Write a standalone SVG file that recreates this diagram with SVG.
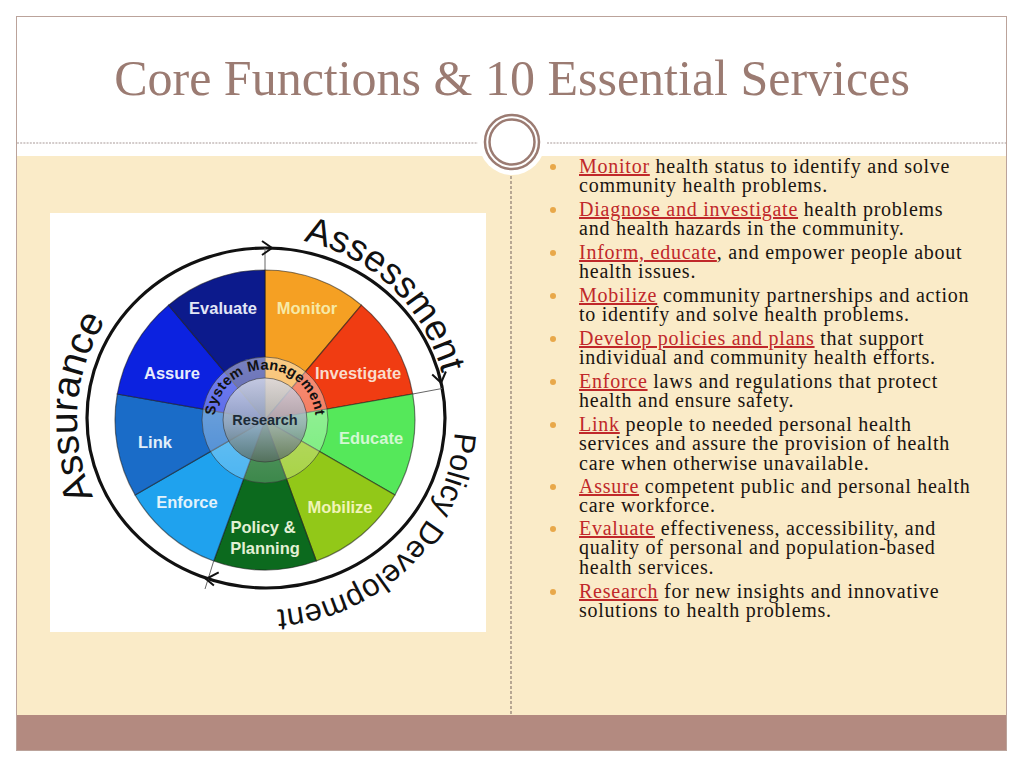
<svg xmlns="http://www.w3.org/2000/svg" width="1024" height="768" viewBox="0 0 1024 768">
<defs>
<style>
.title{font-family:"Liberation Serif","Times New Roman",serif;font-size:50px;fill:#9b7b72}
.body{font-family:"Liberation Serif","Times New Roman",serif;font-size:20px;fill:#1a1410;letter-spacing:0.75px}
.lead{fill:#c0282a;text-decoration:underline}
.lbl{font-family:"Liberation Sans",Arial,sans-serif;font-size:16.5px;font-weight:bold;text-anchor:middle}
.arc{font-family:"Liberation Sans",Arial,sans-serif;fill:#111;text-anchor:middle}
.sec{stroke:#1a1a1a;stroke-opacity:0.55;stroke-width:1.2}
.bul{fill:#e8a84a}
.thin{stroke:#666;stroke-width:1;fill:none}
.chev{stroke:#111;stroke-width:2;fill:none;stroke-linejoin:miter}
</style>
<linearGradient id="resG" x1="0" y1="0" x2="0" y2="1">
<stop offset="0" stop-color="#d8dcec"/>
<stop offset="0.55" stop-color="#9aa8b8"/>
<stop offset="1" stop-color="#566a5e"/>
</linearGradient>
<linearGradient id="ringG" x1="0" y1="0" x2="0" y2="1">
<stop offset="0" stop-color="#ffffff" stop-opacity="0.45"/>
<stop offset="0.6" stop-color="#ffffff" stop-opacity="0.3"/>
<stop offset="1" stop-color="#ffffff" stop-opacity="0.2"/>
</linearGradient>
<clipPath id="imgClip"><rect x="50" y="213" width="436" height="419"/></clipPath>
<path id="pAssess" d="M265,237 A183,183 0 0 1 448,420"/>
<path id="pPolicy" d="M452.1,387 A190,190 0 0 1 232,607.1"/>
<path id="pAssur" d="M121,540.8 A188,188 0 0 1 171,257.2"/>
<path id="pSys" d="M217.2,436.4 A50.5,50.5 0 1 1 312.8,436.4"/>
</defs>

<g id="slide">
<rect x="0" y="0" width="1024" height="768" fill="#ffffff"/>
<rect x="16" y="156" width="991" height="559" fill="#faebc8"/>
<rect x="16" y="715" width="991" height="35" fill="#b38a80"/>
<rect x="16.5" y="16.5" width="990" height="734" fill="none" stroke="#bba39b" stroke-width="1"/>
<line x1="17" y1="143" x2="478" y2="143" stroke="#a89a98" stroke-width="1.2" stroke-dasharray="2 1.2"/>
<line x1="547" y1="143" x2="1006" y2="143" stroke="#a89a98" stroke-width="1.2" stroke-dasharray="2 1.2"/>
<line x1="511" y1="176" x2="511" y2="715" stroke="#8a7a70" stroke-width="1.2" stroke-dasharray="3 2"/>
</g>

<g id="ornament">
<circle cx="512" cy="142" r="33" fill="#ffffff"/>
<circle cx="512" cy="142" r="27" fill="none" stroke="#9b7b72" stroke-width="2.5"/>
<circle cx="512" cy="142" r="22.5" fill="none" stroke="#9b7b72" stroke-width="2.5"/>
</g>

<g id="title">
<text class="title" x="512" y="95" text-anchor="middle">Core Functions &amp; 10 Essential Services</text>
</g>

<g id="wheel-image">
<rect x="50" y="213" width="436" height="419" fill="#ffffff"/>
<g clip-path="url(#imgClip)">
<g id="sector-monitor"><path class="sec" d="M265,420 L265,270 A150,150 0 0 1 361.4,305.1 Z" fill="#f5a023"/></g>
<g id="sector-investigate"><path class="sec" d="M265,420 L361.4,305.1 A150,150 0 0 1 412.7,394 Z" fill="#f03c12"/></g>
<g id="sector-educate"><path class="sec" d="M265,420 L412.7,394 A150,150 0 0 1 394.9,495 Z" fill="#55e85a"/></g>
<g id="sector-mobilize"><path class="sec" d="M265,420 L394.9,495 A150,150 0 0 1 316.3,561 Z" fill="#92c818"/></g>
<g id="sector-policy"><path class="sec" d="M265,420 L316.3,561 A150,150 0 0 1 213.7,561 Z" fill="#0c6a1e"/></g>
<g id="sector-enforce"><path class="sec" d="M265,420 L213.7,561 A150,150 0 0 1 135.1,495 Z" fill="#1fa2ee"/></g>
<g id="sector-link"><path class="sec" d="M265,420 L135.1,495 A150,150 0 0 1 117.3,394 Z" fill="#1a6cc8"/></g>
<g id="sector-assure"><path class="sec" d="M265,420 L117.3,394 A150,150 0 0 1 168.6,305.1 Z" fill="#0c22e0"/></g>
<g id="sector-evaluate"><path class="sec" d="M265,420 L168.6,305.1 A150,150 0 0 1 265,270 Z" fill="#0c1a8c"/></g>

<g id="system-management">
<circle cx="265" cy="420" r="63" fill="url(#ringG)" stroke="#333" stroke-opacity="0.6" stroke-width="1"/>
<text class="arc" font-size="14.5" font-weight="bold" letter-spacing="0.3"><textPath href="#pSys" startOffset="50%">System Management</textPath></text>
</g>
<g id="research">
<circle cx="265" cy="420" r="42" fill="url(#resG)" fill-opacity="0.8" stroke="#333" stroke-opacity="0.6" stroke-width="1"/>
<text x="265" y="425" font-family="'Liberation Sans',Arial,sans-serif" font-size="14.5" font-weight="bold" fill="#1c2a36" text-anchor="middle">Research</text>
</g>

<text class="lbl" x="223" y="314" fill="#e2e6f6">Evaluate</text>
<text class="lbl" x="307" y="314" fill="#f6e9a6">Monitor</text>
<text class="lbl" x="358" y="379" fill="#f9dccc">Investigate</text>
<text class="lbl" x="371" y="444" fill="#d2f8d2">Educate</text>
<text class="lbl" x="340" y="513" fill="#f0f4b8">Mobilize</text>
<text class="lbl" x="263" y="533" fill="#e2f0d4">Policy &amp;</text>
<text class="lbl" x="265" y="554" fill="#e2f0d4">Planning</text>
<text class="lbl" x="187" y="508" fill="#e2f2fb">Enforce</text>
<text class="lbl" x="155" y="448" fill="#e2eef9">Link</text>
<text class="lbl" x="172" y="379" fill="#e8ecfc">Assure</text>

<ellipse cx="266" cy="418" rx="179" ry="170" fill="none" stroke="#111" stroke-width="3.2"/>

<g id="connectors">
<line class="thin" x1="265" y1="270" x2="265" y2="248"/>
<line class="thin" x1="412.7" y1="394" x2="442" y2="388.5"/>
<line class="thin" x1="213.7" y1="561" x2="205" y2="589"/>
<path class="chev" d="M262,241 L272,248 L262,255"/>
<path class="chev" d="M432.2,374.4 L441.1,382.7 L445.9,371.5"/>
<path class="chev" d="M218.7,572.4 L206,579 L213.9,585.6"/>
</g>

<g id="assessment"><text class="arc" font-size="37"><textPath href="#pAssess" startOffset="48.5%">Assessment</textPath></text></g>
<g id="policy-development"><text class="arc" font-size="31"><textPath href="#pPolicy" startOffset="50%">Policy Development</textPath></text></g>
<g id="assurance"><text class="arc" font-size="39"><textPath href="#pAssur" startOffset="44%">Assurance</textPath></text></g>
</g>
</g>

<g id="list">
<g id="item1"><circle class="bul" cx="553" cy="167" r="3"/>
<text class="body" x="579" y="173"><tspan class="lead">Monitor</tspan> health status to identify and solve</text>
<text class="body" x="579" y="192.3">community health problems.</text></g>
<g id="item2"><circle class="bul" cx="553" cy="210" r="3"/>
<text class="body" x="579" y="216"><tspan class="lead">Diagnose and investigate</tspan> health problems</text>
<text class="body" x="579" y="235.3">and health hazards in the community.</text></g>
<g id="item3"><circle class="bul" cx="553" cy="253" r="3"/>
<text class="body" x="579" y="259"><tspan class="lead">Inform, educate</tspan>, and empower people about</text>
<text class="body" x="579" y="278.3">health issues.</text></g>
<g id="item4"><circle class="bul" cx="553" cy="296" r="3"/>
<text class="body" x="579" y="302"><tspan class="lead">Mobilize</tspan> community partnerships and action</text>
<text class="body" x="579" y="321.3">to identify and solve health problems.</text></g>
<g id="item5"><circle class="bul" cx="553" cy="339" r="3"/>
<text class="body" x="579" y="345"><tspan class="lead">Develop policies and plans</tspan> that support</text>
<text class="body" x="579" y="364.3">individual and community health efforts.</text></g>
<g id="item6"><circle class="bul" cx="553" cy="382" r="3"/>
<text class="body" x="579" y="388"><tspan class="lead">Enforce</tspan> laws and regulations that protect</text>
<text class="body" x="579" y="407.3">health and ensure safety.</text></g>
<g id="item7"><circle class="bul" cx="553" cy="425" r="3"/>
<text class="body" x="579" y="431"><tspan class="lead">Link</tspan> people to needed personal health</text>
<text class="body" x="579" y="450.3">services and assure the provision of health</text>
<text class="body" x="579" y="469.6">care when otherwise unavailable.</text></g>
<g id="item8"><circle class="bul" cx="553" cy="487" r="3"/>
<text class="body" x="579" y="493"><tspan class="lead">Assure</tspan> competent public and personal health</text>
<text class="body" x="579" y="512.3">care workforce.</text></g>
<g id="item9"><circle class="bul" cx="553" cy="529" r="3"/>
<text class="body" x="579" y="535"><tspan class="lead">Evaluate</tspan> effectiveness, accessibility, and</text>
<text class="body" x="579" y="554.3">quality of personal and population-based</text>
<text class="body" x="579" y="573.6">health services.</text></g>
<g id="item10"><circle class="bul" cx="553" cy="592" r="3"/>
<text class="body" x="579" y="598"><tspan class="lead">Research</tspan> for new insights and innovative</text>
<text class="body" x="579" y="617.3">solutions to health problems.</text></g>
</g>
</svg>
